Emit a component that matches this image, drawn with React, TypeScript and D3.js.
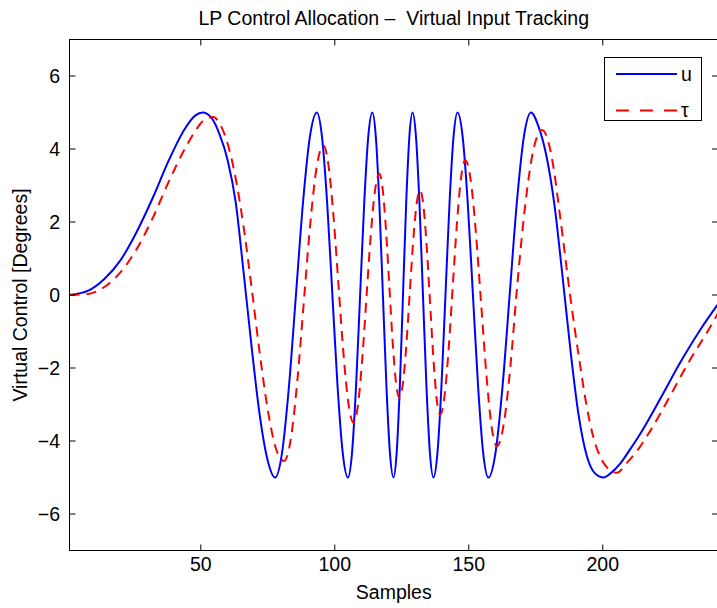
import React from "react";
import * as d3 from "d3";

const uSamples = [
  1, 8, 14, 20, 26, 32, 38, 44, 48, 50.7, 54, 57, 60, 63, 66, 69, 72, 75, 77.7,
  80.3, 82.9, 85.5, 88.1, 90.7, 93.3, 95.23, 97.17, 99.1, 101.03, 102.97, 104.9,
  106.42, 107.93, 109.45, 110.97, 112.48, 114.0, 115.32, 116.63, 117.95, 119.27,
  120.58, 121.9, 123.08, 124.27, 125.45, 126.63, 127.82, 129.0, 130.3, 131.6,
  132.9, 134.2, 135.5, 136.8, 138.3, 139.8, 141.3, 142.8, 144.3, 145.8, 147.72,
  149.63, 151.55, 153.47, 155.38, 157.3, 159.95, 162.6, 165.25, 167.9, 170.55,
  173.2, 176, 179, 182, 185, 188, 191, 194, 197, 200.3, 203, 206.5, 210, 214,
  221.4, 228.9, 236.4, 243,
];
const uValues = [
  0, 0.12, 0.44, 0.95, 1.72, 2.65, 3.68, 4.55, 4.92, 5.0, 4.85, 4.4, 3.7, 2.55,
  0.6, -1.45, -3.3, -4.55, -5.0,
  -4.33, -2.5, 0, 2.5, 4.33, 5.0, 4.33, 2.5, 0, -2.5, -4.33, -5.0,
  -4.33, -2.5, 0, 2.5, 4.33, 5.0, 4.33, 2.5, 0, -2.5,
  -4.33, -5.0, -4.33, -2.5, 0, 2.5, 4.33, 5.0, 4.33, 2.5,
  0, -2.5, -4.33, -5.0, -4.33, -2.5, 0, 2.5, 4.33, 5.0, 4.33,
  2.5, 0, -2.5, -4.33, -5.0, -4.33, -2.5, 0, 2.5, 4.33,
  5.0, 4.62, 3.8, 2.45, 0.5, -1.55, -3.3, -4.4, -4.88, -5.0, -4.88, -4.62, -4.25, -3.8,
  -2.85, -1.85, -0.95, -0.25,
];
const tauSamples = [
  1, 8, 14, 20, 26, 32, 38, 44, 48, 51, 54.7, 57, 60, 63, 66, 69.3, 72, 75, 78,
  81.1, 83.53, 85.97, 88.4, 90.83, 93.27, 95.7, 97.58, 99.47, 101.35, 103.23,
  105.12, 107, 108.6, 110.2, 111.8, 113.4, 115.0, 116.6, 117.85, 119.1, 120.35,
  121.6, 122.85, 124.1, 125.38, 126.67, 127.95, 129.23, 130.52, 131.8, 133.05,
  134.3, 135.55, 136.8, 138.05, 139.3, 140.87, 142.43, 144.0, 145.57, 147.13,
  148.7, 150.67, 152.63, 154.6, 156.57, 158.53, 160.5, 163.0, 165.5, 168.0,
  170.9, 174.0, 177.3, 179.5, 181.6, 184.1, 187.8, 191.5, 194, 196.5, 199.5,
  202.7, 205.3, 209, 213.5, 217.5, 224.5, 232, 239.5, 243,
];
const tauValues = [
  0, 0.03, 0.22, 0.62, 1.25, 2.1, 3.1, 4.0, 4.5, 4.78, 4.88, 4.7, 4.15, 3.2, 1.85,
  0, -1.6, -3.15, -4.2,
  -4.55, -3.97, -2.39, -0.23, 1.94, 3.52, 4.1, 3.59, 2.2, 0.3, -1.6,
  -2.99, -3.5, -3.04, -1.8, -0.09, 1.62, 2.86, 3.32, 2.91, 1.79, 0.25,
  -1.29, -2.41, -2.82, -2.44, -1.4, 0.03, 1.45, 2.49, 2.87, 2.46,
  1.33, -0.21, -1.74, -2.87, -3.28, -2.81, -1.54, 0.21, 1.95, 3.22,
  3.69, 3.17, 1.73, -0.23, -2.18, -3.62, -4.14, -3.56, -1.98, 0.19,
  2.36, 3.94, 4.52, 4.25, 3.5, 2.14, 0, -1.9, -3.05, -3.9, -4.5,
  -4.8, -4.87, -4.6, -4.2, -3.75, -2.85, -1.85, -0.95, -0.5,
];

const xTicks = [50, 100, 150, 200];
const yTicks = [-6, -4, -2, 0, 2, 4, 6];
const xDomain = [1, 243];
const yDomain = [-7, 7];
const titleText = "LP Control Allocation \u2013  Virtual Input Tracking";
const xLabelText = "Samples";
const yLabelText = "Virtual Control [Degrees]";
const seriesNames = ["u", "\u03c4"];
const seriesColors = ["#0000ff", "#ff0000"];

const FONT = "'Liberation Sans', Arial, Helvetica, sans-serif";

export default function App() {
  const W = 717;
  const H = 608;
  const L = 69.5;
  const R = 718;
  const T = 39.5;
  const B = 550.5;
  const TL = 6;
  const fs = 19.5;

  const x = d3.scaleLinear().domain(xDomain).range([L, R]);
  const y = d3.scaleLinear().domain(yDomain).range([B, T]);
  const line = d3
    .line<[number, number]>()
    .x((d) => x(d[0]))
    .y((d) => y(d[1]))
    .curve(d3.curveMonotoneX);

  const uPath = line(uSamples.map((s, i) => [s, uValues[i]] as [number, number])) || "";
  const tauPath = line(tauSamples.map((s, i) => [s, tauValues[i]] as [number, number])) || "";
  const fmt = (v: number) => (v < 0 ? "\u2212" + Math.abs(v) : String(v));

  const lg = { x0: 604.5, y0: 57.5, w: 97, h: 63 };

  return (
    <svg
      width={W}
      height={H}
      viewBox={`0 0 ${W} ${H}`}
      style={{ position: "absolute", left: 0, top: 0, background: "#fff" }}
      fontFamily={FONT}
    >
      <rect x={0} y={0} width={W} height={H} fill="#fff" />
      <defs>
        <clipPath id="plotclip">
          <rect x={L} y={T} width={R - L} height={B - T} />
        </clipPath>
      </defs>
      <g clipPath="url(#plotclip)">
        <path d={uPath} fill="none" stroke={seriesColors[0]} strokeWidth={2} strokeLinejoin="round" />
        <path d={tauPath} fill="none" stroke={seriesColors[1]} strokeWidth={2} strokeDasharray="10,7" />
      </g>
      <rect x={L} y={T} width={R - L} height={B - T} fill="none" stroke="#000" strokeWidth={1} />
      {xTicks.map((t) => (
        <g key={"xt" + t}>
          <line x1={x(t)} x2={x(t)} y1={B} y2={B - TL} stroke="#000" />
          <line x1={x(t)} x2={x(t)} y1={T} y2={T + TL} stroke="#000" />
          <text x={x(t)} y={571} fontSize={fs} textAnchor="middle">
            {fmt(t)}
          </text>
        </g>
      ))}
      {yTicks.map((t) => (
        <g key={"yt" + t}>
          <line x1={L} x2={L + TL} y1={y(t)} y2={y(t)} stroke="#000" />
          <line x1={R} x2={R - TL} y1={y(t)} y2={y(t)} stroke="#000" />
          <text x={60} y={y(t) + 7} fontSize={fs} textAnchor="end">
            {fmt(t)}
          </text>
        </g>
      ))}
      <text x={(L + R) / 2} y={25} fontSize={fs} textAnchor="middle" style={{ whiteSpace: "pre" }}>
        {titleText}
      </text>
      <text x={(L + R) / 2} y={599} fontSize={fs} textAnchor="middle">
        {xLabelText}
      </text>
      <text
        transform={`translate(27, ${(T + B) / 2}) rotate(-90)`}
        fontSize={fs}
        textAnchor="middle"
      >
        {yLabelText}
      </text>
      <rect x={lg.x0} y={lg.y0} width={lg.w} height={lg.h} fill="#fff" stroke="#000" strokeWidth={1} />
      <line x1={616} x2={677} y1={74} y2={74} stroke={seriesColors[0]} strokeWidth={2} />
      <text x={681} y={80.5} fontSize={fs}>
        {seriesNames[0]}
      </text>
      <line x1={616} x2={677} y1={110.5} y2={110.5} stroke={seriesColors[1]} strokeWidth={2} strokeDasharray="13,11" />
      <text x={681} y={116.5} fontSize={fs}>
        {seriesNames[1]}
      </text>
    </svg>
  );
}
